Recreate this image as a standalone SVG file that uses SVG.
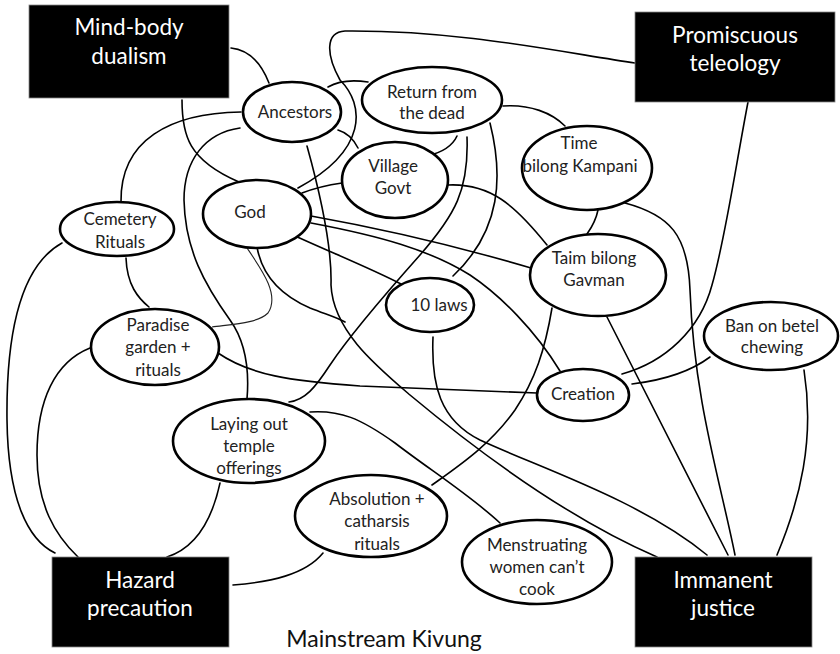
<svg xmlns="http://www.w3.org/2000/svg" width="840" height="654" viewBox="0 0 840 654">
<style>
.c{fill:none;stroke:#000;stroke-width:1.6;stroke-linecap:round}
.thin{fill:none;stroke:#222;stroke-width:1.1}
.n ellipse{fill:#fff;stroke:#000;stroke-width:2.6}
.n text{font-family:Lato,"Open Sans",sans-serif;font-size:17px;fill:#222;text-anchor:middle}
.b rect{fill:#000;stroke:#888;stroke-width:0.8}
.b text{font-family:Lato,"Open Sans",sans-serif;font-size:22.5px;fill:#fff;text-anchor:middle}
.cap{font-family:Lato,"Open Sans",sans-serif;font-size:23px;fill:#111;text-anchor:middle}
</style>
<rect width="840" height="654" fill="#fff"/>
<g id="connectors">
<path class="c" d="M231,48 C250,50 262,65 269,83"/>
<path class="c" d="M182,100 C182,135 188,160 239,182"/>
<path class="c" d="M241,112 C170,113 120,140 121,202"/>
<path class="c" d="M240,128 C205,133 184,160 184,200 C185,250 205,285 230,320 C248,345 249,375 247,399"/>
<path class="c" d="M328,87 C340,80 355,80 368,82"/>
<path class="c" d="M338,130 C348,133 354,140 358,148"/>
<path class="c" d="M307,146 C322,200 332,250 331,285 C333,330 375,365 410,395 C470,445 560,515 657,557"/>
<path class="c" d="M635,63 C560,52 460,30 345,31 C325,32 326,55 340,80 C365,105 368,150 298,188"/>
<path class="c" d="M302,193 C315,188 328,185 342,183"/>
<path class="c" d="M311,216 C400,232 470,250 531,268"/>
<path class="c" d="M311,223 C380,236 430,250 470,275 C500,295 535,330 560,371"/>
<path class="c" d="M293,235 C330,252 370,268 401,284"/>
<path class="thin" d="M247,248 C262,270 280,295 268,313 C258,323 235,324 212,327"/>
<path class="c" d="M257,247 C262,275 280,295 310,308 C328,315 338,318 345,322"/>
<path class="c" d="M503,106 C530,104 552,113 565,126"/>
<path class="c" d="M457,136 C452,147 440,153 427,156"/>
<path class="c" d="M467,137 C469,190 455,215 420,255 C380,300 350,335 330,365 C315,388 305,400 289,402"/>
<path class="c" d="M490,123 C503,175 502,230 453,276"/>
<path class="c" d="M448,185 C490,183 515,205 547,245"/>
<path class="c" d="M598,210 C596,220 592,227 587,234"/>
<path class="c" d="M625,203 C670,215 688,235 690,290 C694,400 720,480 735,555"/>
<path class="c" d="M748,102 C735,170 725,240 712,285 C700,330 665,362 622,374"/>
<path class="c" d="M710,357 C690,372 665,380 632,384"/>
<path class="c" d="M804,370 C815,440 800,500 777,555"/>
<path class="c" d="M607,317 L728,555"/>
<path class="c" d="M552,308 C545,350 535,380 515,410 C490,445 460,465 432,485"/>
<path class="c" d="M433,337 C431,385 440,420 480,440 C540,468 640,500 707,555"/>
<path class="c" d="M218,353 C250,375 290,381 360,386 L537,393"/>
<path class="c" d="M310,412 C340,410 360,418 395,443 C430,470 470,495 500,523"/>
<path class="c" d="M220,483 C212,520 195,548 167,557"/>
<path class="c" d="M323,553 C305,575 270,582 233,585"/>
<path class="c" d="M62,243 C22,265 6,330 7,420 C8,500 28,540 55,553"/>
<path class="c" d="M126,258 C127,285 138,298 149,307"/>
<path class="c" d="M90,348 C55,362 37,400 37,455 C37,505 55,535 78,557"/>
</g>
<g id="mind-body" class="b"><rect x="29" y="5" width="200" height="93"/><text x="129" y="35">Mind-body</text><text x="129" y="64">dualism</text></g>
<g id="promiscuous" class="b"><rect x="635" y="12" width="200" height="90"/><text x="735" y="43">Promiscuous</text><text x="735" y="71">teleology</text></g>
<g id="hazard" class="b"><rect x="52" y="557" width="177" height="90"/><text x="140" y="588">Hazard</text><text x="140" y="616">precaution</text></g>
<g id="immanent" class="b"><rect x="635" y="557" width="177" height="90"/><text x="723" y="588">Immanent</text><text x="723" y="616">justice</text></g>
<g id="ancestors" class="n"><ellipse cx="292" cy="112" rx="49" ry="30"/><text x="295" y="118">Ancestors</text></g>
<g id="return" class="n"><ellipse cx="432" cy="100" rx="70" ry="33"/><text x="432" y="98">Return from</text><text x="432" y="119">the dead</text></g>
<g id="village" class="n"><ellipse cx="395" cy="180" rx="53" ry="38"/><text x="393" y="172">Village</text><text x="393" y="194">Govt</text></g>
<g id="god" class="n"><ellipse cx="257" cy="214" rx="54" ry="34"/><text x="250" y="218">God</text></g>
<g id="cemetery" class="n"><ellipse cx="117" cy="229" rx="57" ry="27"/><text x="120" y="225">Cemetery</text><text x="120" y="248">Rituals</text></g>
<g id="kampani" class="n"><ellipse cx="587" cy="168" rx="65" ry="42"/><text x="579" y="149">Time</text><text x="580" y="172">bilong Kampani</text></g>
<g id="gavman" class="n"><ellipse cx="598" cy="275" rx="68" ry="41"/><text x="594" y="264">Taim bilong</text><text x="594" y="286">Gavman</text></g>
<g id="laws" class="n"><ellipse cx="430" cy="305" rx="44" ry="27"/><text x="439" y="311">10 laws</text></g>
<g id="paradise" class="n"><ellipse cx="155" cy="347" rx="64" ry="38"/><text x="158" y="331">Paradise</text><text x="158" y="353">garden +</text><text x="158" y="376">rituals</text></g>
<g id="creation" class="n"><ellipse cx="583" cy="395" rx="46" ry="26"/><text x="583" y="400">Creation</text></g>
<g id="betel" class="n"><ellipse cx="771" cy="336" rx="67" ry="34"/><text x="772" y="332">Ban on betel</text><text x="772" y="353">chewing</text></g>
<g id="laying" class="n"><ellipse cx="249" cy="441" rx="76" ry="42"/><text x="249" y="430">Laying out</text><text x="249" y="452">temple</text><text x="249" y="474">offerings</text></g>
<g id="absolution" class="n"><ellipse cx="371" cy="516" rx="76" ry="41"/><text x="377" y="505">Absolution +</text><text x="377" y="527">catharsis</text><text x="377" y="550">rituals</text></g>
<g id="menstruating" class="n"><ellipse cx="537" cy="562" rx="75" ry="42"/><text x="537" y="551">Menstruating</text><text x="537" y="573">women can’t</text><text x="537" y="595">cook</text></g>
<text class="cap" x="384" y="647">Mainstream Kivung</text>
</svg>
